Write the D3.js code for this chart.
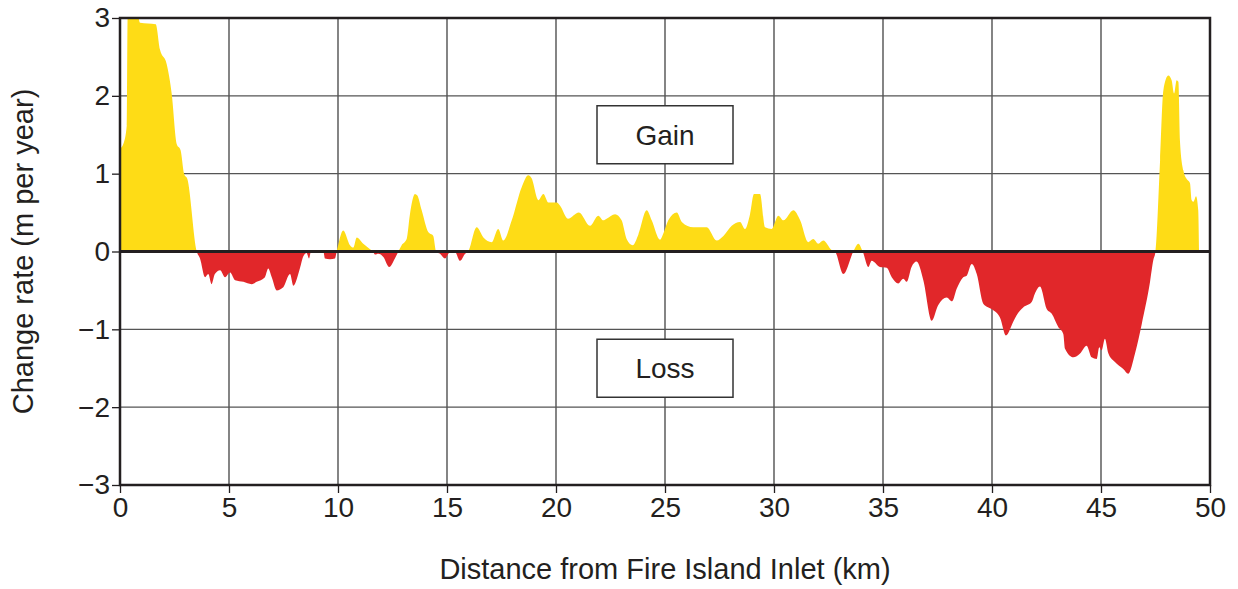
<html>
<head>
<meta charset="utf-8">
<script src="https://d3js.org/d3.v7.min.js"></script>
<style>
  body { margin: 0; background: #fff; }
  text { font-family: "Liberation Sans", Arial, sans-serif; fill: #231f20; }
</style>
</head>
<body>
<svg width="1238" height="589"></svg>
<script>
// distance along shore (km) and shoreline change rate (m per year)
var distanceKm = [0, 0.15, 0.31, 0.35, 0.84, 0.92, 1.64, 1.83, 2.14, 2.37, 2.6, 2.78, 2.94, 3.09, 3.52,
  3.67, 3.9, 4.05, 4.2, 4.35, 4.59, 4.82, 5.05, 5.28, 5.66, 6.04, 6.27, 6.65, 6.8, 6.96, 7.19, 7.49,
  7.8, 7.95, 8.26, 8.41, 8.56, 8.67, 8.76, 9.33, 9.4, 9.63, 9.86, 9.94, 10.24, 10.55, 10.7, 10.86,
  11.16, 11.47, 11.6, 11.7, 11.85, 12.08, 12.35, 12.61, 12.77, 12.92, 13.15, 13.3, 13.53, 13.64,
  13.84, 14.14, 14.37, 14.5, 14.68, 14.91, 15.06, 15.21, 15.37, 15.6, 15.83, 15.98, 16.36, 16.67,
  17.05, 17.35, 17.58, 17.97, 18.43, 18.73, 18.88, 19.19, 19.42, 19.65, 20.03, 20.18, 20.55, 21.05,
  21.56, 21.94, 22.17, 22.32, 22.71, 23.01, 23.24, 23.52, 23.78, 24.16, 24.39, 24.77, 24.95, 25.15,
  25.54, 25.77, 26.3, 26.91, 27.37, 27.68, 28.06, 28.44, 28.67, 28.9, 29.08, 29.36, 29.59, 29.89,
  30.2, 30.43, 30.89, 31.2, 31.57, 31.8, 32.03, 32.26, 32.64, 32.8, 33.18, 33.64, 33.87, 34.07,
  34.33, 34.48, 34.86, 35.17, 35.4, 35.7, 35.93, 36.09, 36.31, 36.54, 36.85, 37.23, 37.53, 37.92,
  38.17, 38.38, 38.68, 38.84, 39.07, 39.3, 39.6, 39.98, 40.37, 40.64, 40.98, 41.13, 41.43, 41.82,
  41.97, 42.2, 42.51, 42.74, 43.04, 43.27, 43.35, 43.73, 44.04, 44.34, 44.57, 44.8, 44.92, 45.03,
  45.18, 45.34, 45.64, 46.02, 46.25, 46.56, 46.87, 47.25, 47.4, 47.5, 47.71, 47.86, 48.09, 48.24,
  48.35, 48.47, 48.55, 48.62, 48.78, 48.93, 49.08, 49.16, 49.24, 49.36, 49.46, 49.5];
var changeRate = [1.32, 1.38, 1.62, 3.0, 3.0, 2.94, 2.92, 2.6, 2.41, 2.03, 1.38, 1.3, 1.0, 0.93, 0,
  -0.09, -0.33, -0.29, -0.42, -0.29, -0.24, -0.33, -0.27, -0.37, -0.39, -0.42, -0.39, -0.33, -0.22, -0.33, -0.5, -0.46,
  -0.29, -0.44, -0.21, -0.06, -0.02, -0.09, 0, 0, -0.09, -0.1, -0.09, 0, 0.27, 0.08, 0.05, 0.18,
  0.1, 0.03, 0, -0.04, -0.03, -0.07, -0.2, -0.09, 0, 0.08, 0.16, 0.48, 0.74, 0.72,
  0.53, 0.25, 0.2, 0, -0.03, -0.09, -0.03, 0.02, 0, -0.12, -0.03, 0, 0.31, 0.18,
  0.12, 0.29, 0.14, 0.4, 0.83, 0.98, 0.94, 0.66, 0.74, 0.63, 0.63, 0.59, 0.42, 0.5,
  0.33, 0.46, 0.4, 0.42, 0.48, 0.4, 0.16, 0.08, 0.22, 0.53, 0.4, 0.15, 0.25, 0.4,
  0.5, 0.38, 0.31, 0.31, 0.14, 0.2, 0.33, 0.38, 0.29, 0.48, 0.74, 0.74, 0.31, 0.29,
  0.46, 0.4, 0.53, 0.4, 0.12, 0.16, 0.1, 0.14, 0.02, 0, -0.29, 0, 0.1, 0,
  -0.2, -0.12, -0.2, -0.21, -0.33, -0.41, -0.35, -0.39, -0.2, -0.13, -0.37, -0.89, -0.69, -0.59,
  -0.64, -0.48, -0.33, -0.31, -0.16, -0.29, -0.67, -0.74, -0.85, -1.08, -0.9, -0.82, -0.72, -0.65,
  -0.54, -0.45, -0.74, -0.8, -0.97, -1.06, -1.25, -1.36, -1.31, -1.21, -1.36, -1.38, -1.23, -1.27,
  -1.12, -1.31, -1.42, -1.51, -1.57, -1.31, -0.93, -0.39, -0.11, 0, 1.17, 2.07, 2.26, 2.2,
  2.03, 2.2, 2.18, 1.43, 1.04, 0.93, 0.88, 0.66, 0.64, 0.71, 0.53, 0];
var xTicks = [0, 5, 10, 15, 20, 25, 30, 35, 40, 45, 50];
var yTicks = [-3, -2, -1, 0, 1, 2, 3];
var boxLabels = ["Gain", "Loss"];
var boxCentres = [1.5, -1.5];

var marge = {top: 18, left: 120, right: 28, bottom: 104};
var svg = d3.select("svg");
var width = +svg.attr("width") - marge.left - marge.right;
var height = +svg.attr("height") - marge.top - marge.bottom;
var g = svg.append("g").attr("transform", "translate(" + marge.left + "," + marge.top + ")");

var xScale = d3.scaleLinear().domain([0, 50]).range([0, width]);
var yScale = d3.scaleLinear().domain([-3, 3]).range([height, 0]);

// grid
g.append("g").selectAll("line").data(xTicks.slice(1, -1)).enter().append("line")
  .attr("x1", d => xScale(d)).attr("x2", d => xScale(d))
  .attr("y1", 0).attr("y2", height)
  .attr("stroke", "#333").attr("stroke-width", 1.2);
g.append("g").selectAll("line").data(yTicks.filter(d => d != 0 && Math.abs(d) != 3)).enter().append("line")
  .attr("x1", 0).attr("x2", width)
  .attr("y1", d => yScale(d)).attr("y2", d => yScale(d))
  .attr("stroke", "#555").attr("stroke-width", 1.3);

var data = distanceKm.map((d, i) => ({x: d, y: changeRate[i]}));
var area = d3.area()
  .x(d => xScale(d.x))
  .y0(yScale(0))
  .y1(d => yScale(d.y))
  .curve(d3.curveMonotoneX);

var defs = svg.append("defs");
defs.append("clipPath").attr("id", "above").append("rect")
  .attr("x", 0).attr("y", 0).attr("width", width).attr("height", yScale(0));
defs.append("clipPath").attr("id", "below").append("rect")
  .attr("x", 0).attr("y", yScale(0)).attr("width", width).attr("height", height - yScale(0));

g.append("path").datum(data).attr("d", area)
  .attr("fill", "#fedc16").attr("clip-path", "url(#above)");
g.append("path").datum(data).attr("d", area)
  .attr("fill", "#e1272a").attr("clip-path", "url(#below)");

// zero line
g.append("line").attr("x1", 0).attr("x2", width)
  .attr("y1", yScale(0)).attr("y2", yScale(0))
  .attr("stroke", "#231f20").attr("stroke-width", 3);

// gain / loss boxes
var boxes = g.selectAll(".box").data(boxLabels).enter().append("g");
boxes.append("rect")
  .attr("x", xScale(25) - 68)
  .attr("y", (d, i) => yScale(boxCentres[i]) - 29)
  .attr("width", 136).attr("height", 58)
  .attr("fill", "#fff").attr("stroke", "#333").attr("stroke-width", 1.5);
boxes.append("text")
  .attr("x", xScale(25))
  .attr("y", (d, i) => yScale(boxCentres[i]))
  .attr("dy", "0.36em")
  .attr("text-anchor", "middle")
  .style("font-size", "28px")
  .text(d => d);

// axes
var fmt = d3.format("d");
var xAxis = d3.axisBottom(xScale).tickValues(xTicks).tickFormat(fmt).tickSize(8).tickPadding(4);
var yAxis = d3.axisLeft(yScale).tickValues(yTicks).tickFormat(fmt).tickSize(8).tickPadding(2);
var gx = g.append("g").attr("transform", "translate(0," + height + ")").call(xAxis);
var gy = g.append("g").call(yAxis);
[gx, gy].forEach(function(a) {
  a.select(".domain").remove();
  a.selectAll("line").attr("stroke", "#231f20").attr("stroke-width", 1.3);
  a.selectAll("text").style("font-size", "28px").attr("fill", "#231f20");
});

// frame
g.append("rect").attr("width", width).attr("height", height)
  .attr("fill", "none").attr("stroke", "#231f20").attr("stroke-width", 2.5);

// titles
svg.append("text")
  .attr("x", marge.left + width / 2).attr("y", 579)
  .attr("text-anchor", "middle").style("font-size", "29px")
  .text("Distance from Fire Island Inlet (km)");
svg.append("text")
  .attr("transform", "translate(33," + (marge.top + yScale(0)) + ") rotate(-90)")
  .attr("text-anchor", "middle").style("font-size", "29px")
  .text("Change rate (m per year)");
</script>
</body>
</html>
